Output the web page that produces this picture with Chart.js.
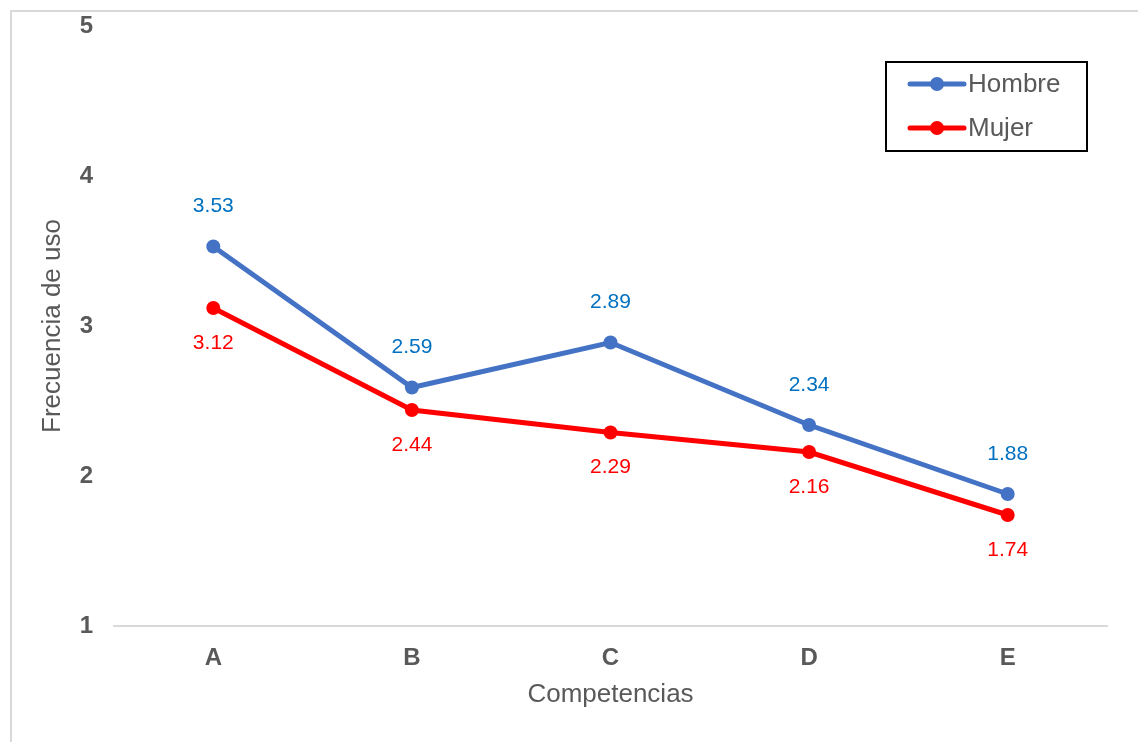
<!DOCTYPE html>
<html>
<head>
<meta charset="utf-8">
<script src="https://cdn.jsdelivr.net/npm/chart.js@4/dist/chart.umd.min.js"></script>
<style>
  html, body { margin: 0; padding: 0; background: #ffffff; }
  #wrap { width: 1138px; height: 742px; position: relative; }
</style>
</head>
<body>
<div id="wrap"><canvas id="chart" width="1138" height="742"></canvas></div>
<script>
const categories = ['A', 'B', 'C', 'D', 'E'];
const hombre = [3.53, 2.59, 2.89, 2.34, 1.88];
const mujer = [3.12, 2.44, 2.29, 2.16, 1.74];
const yTicks = [1, 2, 3, 4, 5];

const FONT = "'Liberation Sans', Arial, sans-serif";
const GREY = '#595959';

// Outer frame (top and left edges of the chart box)
const framePlugin = {
  id: 'frame',
  beforeDraw(chart) {
    const ctx = chart.ctx;
    ctx.save();
    ctx.fillStyle = '#ffffff';
    ctx.fillRect(0, 0, chart.width, chart.height);
    ctx.strokeStyle = '#d9d9d9';
    ctx.lineWidth = 2;
    ctx.beginPath();
    ctx.moveTo(chart.width, 11);
    ctx.lineTo(11, 11);
    ctx.lineTo(11, chart.height);
    ctx.stroke();
    ctx.restore();
  }
};

// Value labels above (Hombre) and below (Mujer) each point
const valueLabels = {
  id: 'valueLabels',
  afterDatasetsDraw(chart) {
    const ctx = chart.ctx;
    ctx.save();
    ctx.font = '21px ' + FONT;
    ctx.textAlign = 'center';
    ctx.textBaseline = 'middle';
    chart.data.datasets.forEach((ds, i) => {
      const meta = chart.getDatasetMeta(i);
      ctx.fillStyle = ds.labelColor;
      meta.data.forEach((pt, j) => {
        ctx.fillText(ds.data[j].toFixed(2), pt.x, pt.y + ds.labelOffset);
      });
    });
    ctx.restore();
  }
};

// Boxed legend in the upper right of the plot
const boxLegend = {
  id: 'boxLegend',
  afterDraw(chart) {
    const ctx = chart.ctx;
    const x = 886, y = 62, w = 201, h = 89;
    ctx.save();
    ctx.fillStyle = '#ffffff';
    ctx.fillRect(x, y, w, h);
    ctx.strokeStyle = '#000000';
    ctx.lineWidth = 2;
    ctx.strokeRect(x, y, w, h);
    chart.data.datasets.forEach((ds, i) => {
      const cy = y + 22 + i * 44;
      ctx.strokeStyle = ds.borderColor;
      ctx.lineWidth = 5;
      ctx.lineCap = 'round';
      ctx.beginPath();
      ctx.moveTo(910, cy);
      ctx.lineTo(964, cy);
      ctx.stroke();
      ctx.fillStyle = ds.borderColor;
      ctx.beginPath();
      ctx.arc(937, cy, 7, 0, Math.PI * 2);
      ctx.fill();
      ctx.fillStyle = GREY;
      ctx.font = '26px ' + FONT;
      ctx.textAlign = 'left';
      ctx.textBaseline = 'middle';
      ctx.fillText(ds.label, 968, cy + 1);
    });
    ctx.restore();
  }
};

new Chart(document.getElementById('chart'), {
  type: 'line',
  data: {
    labels: categories,
    datasets: [
      {
        label: 'Hombre',
        data: hombre,
        borderColor: '#4472C4',
        backgroundColor: '#4472C4',
        borderWidth: 5,
        pointRadius: 7,
        pointBorderWidth: 0,
        tension: 0,
        labelColor: '#0070C0',
        labelOffset: -40
      },
      {
        label: 'Mujer',
        data: mujer,
        borderColor: '#FF0000',
        backgroundColor: '#FF0000',
        borderWidth: 5,
        pointRadius: 7,
        pointBorderWidth: 0,
        tension: 0,
        labelColor: '#FF0000',
        labelOffset: 35
      }
    ]
  },
  options: {
    responsive: false,
    animation: false,
    layout: { autoPadding: false, padding: { top: 26, right: 31, bottom: 0, left: 0 } },
    plugins: {
      legend: { display: false },
      tooltip: { enabled: false }
    },
    scales: {
      x: {
        offset: true,
        grid: { display: false, drawTicks: false },
        border: { display: true, color: '#d9d9d9', width: 2 },
        ticks: {
          color: GREY,
          font: { family: FONT, size: 24, weight: 'bold' },
          padding: 18
        },
        title: {
          display: true,
          text: 'Competencias',
          color: GREY,
          font: { family: FONT, size: 26 },
          padding: { top: 0, bottom: 32 }
        },
        afterFit(scale) { scale.height = 116; }
      },
      y: {
        min: 1,
        max: 5,
        afterBuildTicks(scale) { scale.ticks = yTicks.map(v => ({ value: v })); },
        grid: { display: false, drawTicks: false },
        border: { display: false },
        ticks: {
          color: GREY,
          font: { family: FONT, size: 24, weight: 'bold' },
          padding: 21
        },
        title: {
          display: true,
          text: 'Frecuencia de uso',
          color: GREY,
          font: { family: FONT, size: 26 },
          padding: { top: 37, bottom: 0 }
        },
        afterFit(scale) {
          scale.width = 114;
          scale.paddingTop = 0;
          scale.paddingBottom = 0;
        }
      }
    }
  },
  plugins: [framePlugin, valueLabels, boxLegend]
});
</script>
</body>
</html>
